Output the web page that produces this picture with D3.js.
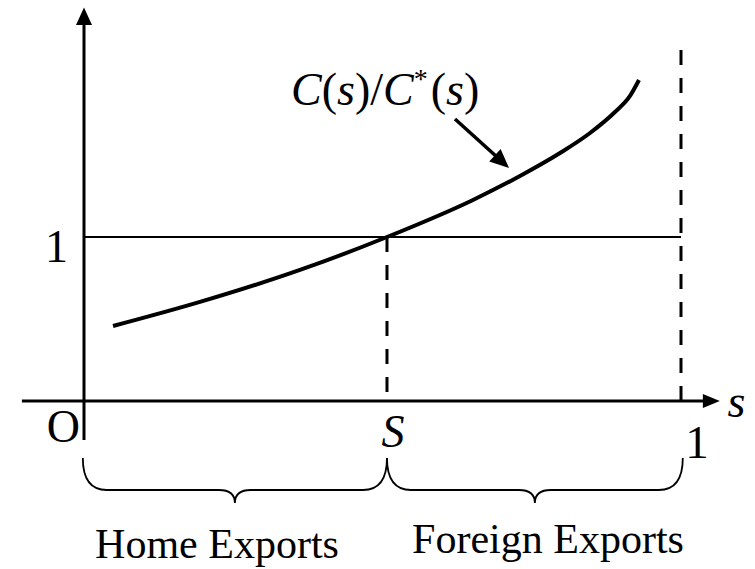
<!DOCTYPE html>
<html><head><meta charset="utf-8">
<script src="https://cdn.jsdelivr.net/npm/d3@7"></script>
<style>body{margin:0;background:#fff}svg{display:block}text{font-family:"Liberation Serif","Times New Roman",serif;fill:#000}</style>
</head><body>
<script>
// data
const curveS = [0.0486, 0.1943, 0.3618, 0.5075, 0.6516, 0.7303, 0.7973, 0.8476, 0.8894, 0.9146, 0.9296];
const curveV = [0.457, 0.604, 0.799, 1.0, 1.226, 1.372, 1.512, 1.634, 1.762, 1.860, 1.957];
const cutoffS = 0.5075;
const regionLabels = ["Home Exports", "Foreign Exports"];
const yTickLabels = ["1"];

const W = 755, H = 569;
const svg = d3.select("body").append("svg").attr("width", W).attr("height", H);
const x = d3.scaleLinear().domain([0, 1]).range([84, 681]);
const y = d3.scaleLinear().domain([0, 1]).range([401, 237]);

// axes
svg.append("line").attr("x1", x(-0.104)).attr("x2", x(1.04)).attr("y1", y(0)).attr("y2", y(0))
  .attr("stroke","#000").attr("stroke-width",3);
svg.append("path").attr("d", `M${x(1.04)-2},${y(0)-7}L${x(1.065)},${y(0)}L${x(1.04)-2},${y(0)+7}Z`).attr("fill","#000");
svg.append("line").attr("x1", x(0)).attr("x2", x(0)).attr("y1", y(-0.238)).attr("y2", y(2.305))
  .attr("stroke","#000").attr("stroke-width",3);
svg.append("path").attr("d", `M${x(0)-8},${y(2.305)+2}L${x(0)},${y(2.4)}L${x(0)+8},${y(2.305)+2}Z`).attr("fill","#000");

// horizontal line at 1
svg.append("line").attr("x1", x(0)).attr("x2", x(1)).attr("y1", y(1)).attr("y2", y(1))
  .attr("stroke","#000").attr("stroke-width",2);

// dashed lines
svg.append("line").attr("x1", x(cutoffS)).attr("x2", x(cutoffS)).attr("y1", y(1)).attr("y2", y(0))
  .attr("stroke","#000").attr("stroke-width",3).attr("stroke-dasharray","15,13");
svg.append("line").attr("x1", x(1)).attr("x2", x(1)).attr("y1", y(2.14)).attr("y2", y(0))
  .attr("stroke","#000").attr("stroke-width",3).attr("stroke-dasharray","15,13");

// curve
const pts = curveS.map((s,i)=>[s, curveV[i]]);
svg.append("path").datum(pts)
  .attr("d", d3.line().x(d=>x(d[0])).y(d=>y(d[1])).curve(d3.curveMonotoneX))
  .attr("fill","none").attr("stroke","#000").attr("stroke-width",4);

// annotation arrow
(function(){
  const x0=455,y0=119,x1=509,y1=168;
  const dx=x1-x0, dy=y1-y0, L=Math.hypot(dx,dy), ux=dx/L, uy=dy/L;
  const hl=19, hw=8.5;
  const bx=x1-ux*hl, by=y1-uy*hl;
  svg.append("line").attr("x1",x0).attr("y1",y0).attr("x2",bx+ux*2).attr("y2",by+uy*2)
    .attr("stroke","#000").attr("stroke-width",3.5);
  svg.append("path").attr("d",`M${x1},${y1}L${bx-uy*hw},${by+ux*hw}L${bx+uy*hw},${by-ux*hw}Z`).attr("fill","#000");
})();

// label C(s)/C*(s)
const lab = svg.append("text").attr("x",291).attr("y",105).attr("font-size",46);
lab.append("tspan").attr("font-style","italic").text("C");
lab.append("tspan").text("(");
lab.append("tspan").attr("font-style","italic").text("s");
lab.append("tspan").text(")/");
lab.append("tspan").attr("font-style","italic").text("C");
lab.append("tspan").attr("font-size",28).attr("dy",-17).text("*");
lab.append("tspan").attr("dy",17).attr("dx",3).text("(");
lab.append("tspan").attr("font-style","italic").text("s");
lab.append("tspan").text(")");

// tick labels
svg.append("text").attr("x",x(0)-16).attr("y",y(1)+25).attr("text-anchor","end").attr("font-size",46).text(yTickLabels[0]);
svg.append("text").attr("x",x(0)-4).attr("y",y(0)+41).attr("text-anchor","end").attr("font-size",46).text("O");
svg.append("text").attr("x",x(cutoffS)+6).attr("y",y(0)+46).attr("text-anchor","middle").attr("font-size",46).attr("font-style","italic").text("S");
svg.append("text").attr("x",x(1)+16).attr("y",y(0)+57).attr("text-anchor","middle").attr("font-size",47).text("1");
svg.append("text").attr("x",x(1.093)).attr("y",y(0)+16).attr("text-anchor","middle").attr("font-size",46).attr("font-style","italic").text("s");

// braces
function brace(x1, x2, yt, ym, yp){
  const xm = (x1+x2)/2, r = 24, r2 = 16;
  return `M${x1},${yt}Q${x1},${ym} ${x1+r},${ym}L${xm-r2},${ym}Q${xm},${ym} ${xm},${yp}Q${xm},${ym} ${xm+r2},${ym}L${x2-r},${ym}Q${x2},${ym} ${x2},${yt}`;
}
const spans = [[-0.002, cutoffS], [cutoffS, 1.003]];
spans.forEach((sp,i)=>{
  svg.append("path").attr("d", brace(x(sp[0]), x(sp[1]), 458, 490, 503))
    .attr("fill","none").attr("stroke","#000").attr("stroke-width",1.8);
});
svg.append("text").attr("x", 217).attr("y", 558).attr("text-anchor","middle").attr("font-size",42).text(regionLabels[0]);
svg.append("text").attr("x", 548).attr("y", 553).attr("text-anchor","middle").attr("font-size",42).text(regionLabels[1]);
</script>
</body></html>
